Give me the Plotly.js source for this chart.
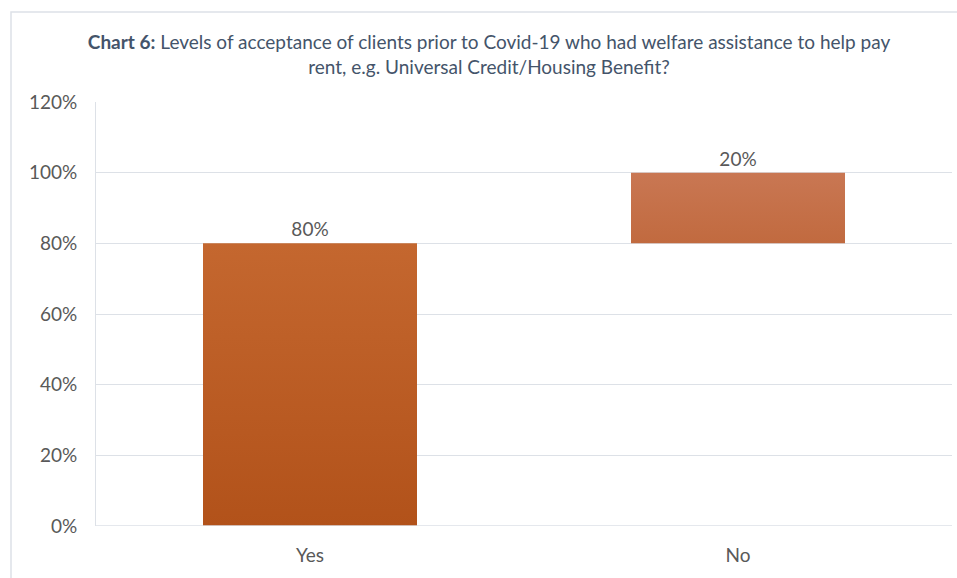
<!DOCTYPE html>
<html>
<head>
<meta charset="utf-8">
<script src="https://cdn.plot.ly/plotly-3.0.1.min.js"></script>
<style>html,body{margin:0;padding:0;background:#fff;}#chart{width:957px;height:578px;}</style>
</head>
<body>
<div id="chart"></div>
<script>
var categories = ["Yes", "No"];
var values = [80, 20];
var valueLabels = ["80%", "20%"];
var yTickVals = [0, 20, 40, 60, 80, 100, 120];
var yTickText = ["0%", "20%", "40%", "60%", "80%", "100%", "120%"];

var bases = [];
var run = 0;
for (var i = 0; i < values.length; i++) { bases.push(run); run += values[i]; }

var FONT = "Lato, 'Open Sans', sans-serif";

var trace = {
  type: "bar",
  x: categories,
  y: values,
  base: bases,
  width: 0.5,
  marker: { color: ["#bb5c27", "#c46f47"], line: { width: 0 } },
  text: valueLabels,
  textposition: "outside",
  cliponaxis: false,
  textfont: { family: FONT, size: 19, color: "#595959" },
  hoverinfo: "none"
};

var layout = {
  width: 957, height: 578,
  margin: { l: 96, r: 5, t: 102, b: 52 },
  paper_bgcolor: "#ffffff",
  plot_bgcolor: "#ffffff",
  showlegend: false,
  title: {
    text: "<b>Chart 6:</b> Levels of acceptance of clients prior to Covid-19 who had welfare assistance to help pay<br>rent, e.g. Universal Credit/Housing Benefit?",
    font: { family: FONT, size: 19, color: "#44546a" },
    x: 0.511, xanchor: "center", y: 0.915, yanchor: "middle"
  },
  xaxis: {
    type: "category",
    range: [-0.5, 1.5],
    showgrid: false,
    showline: false,
    zeroline: false,
    ticks: "outside", ticklen: 12, tickcolor: "rgba(0,0,0,0)",
    tickfont: { family: FONT, size: 19, color: "#595959" }
  },
  yaxis: {
    range: [0, 120],
    tickvals: yTickVals,
    ticktext: yTickText,
    showgrid: true,
    gridcolor: "#dde1e7",
    gridwidth: 1,
    zeroline: false,
    showline: true,
    linecolor: "#dde1e7",
    ticks: "outside", ticklen: 14, tickcolor: "rgba(0,0,0,0)",
    tickfont: { family: FONT, size: 19, color: "#595959" }
  },
  shapes: [
    { type: "line", xref: "paper", yref: "y", x0: 0, x1: 1, y0: 0, y1: 0, line: { color: "#dde1e7", width: 1.5 } },
    { type: "rect", xref: "paper", yref: "paper", x0: -0.0993, x1: 1.2, y0: -0.3, y1: 1.212, line: { color: "#dde1e7", width: 1.5 }, fillcolor: "rgba(0,0,0,0)", layer: "below" }
  ]
};

Plotly.newPlot("chart", [trace], layout, { staticPlot: true, displayModeBar: false }).then(function (gd) {
  var svg = gd.querySelector("svg.main-svg");
  var defs = svg.querySelector("defs");
  var ns = "http://www.w3.org/2000/svg";
  var grads = [["gYes", "#c4672f", "#b2521a"], ["gNo", "#c97753", "#c16a3f"]];
  grads.forEach(function (g) {
    var lg = document.createElementNS(ns, "linearGradient");
    lg.setAttribute("id", g[0]);
    lg.setAttribute("x1", "0"); lg.setAttribute("y1", "0");
    lg.setAttribute("x2", "0"); lg.setAttribute("y2", "1");
    var s1 = document.createElementNS(ns, "stop");
    s1.setAttribute("offset", "0"); s1.setAttribute("stop-color", g[1]);
    var s2 = document.createElementNS(ns, "stop");
    s2.setAttribute("offset", "1"); s2.setAttribute("stop-color", g[2]);
    lg.appendChild(s1); lg.appendChild(s2);
    defs.appendChild(lg);
  });
  var paths = gd.querySelectorAll(".barlayer .point path");
  paths.forEach(function (p, idx) {
    p.style.fill = "url(#" + grads[idx % grads.length][0] + ")";
  });
});
</script>
</body>
</html>
